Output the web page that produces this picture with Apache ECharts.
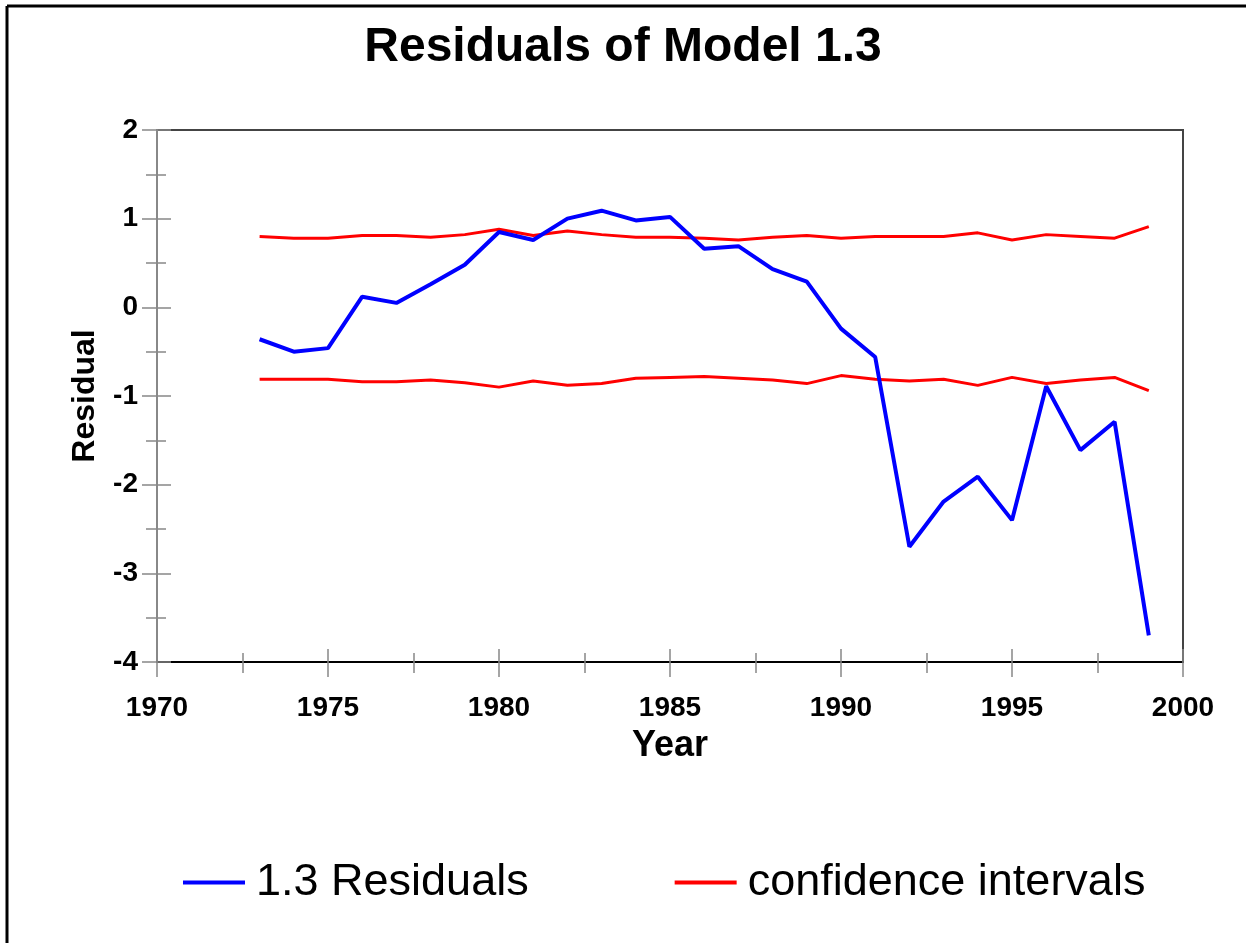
<!DOCTYPE html>
<html>
<head>
<meta charset="utf-8">
<title>Residuals of Model 1.3</title>
<script src="https://cdn.jsdelivr.net/npm/echarts@6/dist/echarts.min.js"></script>
<style>
  html, body { margin: 0; padding: 0; background: #fff; }
  #chart { width: 1246px; height: 943px; }
</style>
</head>
<body>
<div id="chart"></div>
<script>
// data
var years = [1973, 1974, 1975, 1976, 1977, 1978, 1979, 1980, 1981, 1982, 1983, 1984, 1985, 1986,
  1987, 1988, 1989, 1990, 1991, 1992, 1993, 1994, 1995, 1996, 1997, 1998, 1999];
var residuals = [-0.36, -0.50, -0.46, 0.12, 0.05, 0.26, 0.48, 0.85, 0.76, 1.00, 1.09, 0.98, 1.02, 0.66,
  0.69, 0.43, 0.29, -0.24, -0.56, -2.70, -2.19, -1.91, -2.40, -0.89, -1.61, -1.29, -3.70];
var upperCI = [0.80, 0.78, 0.78, 0.81, 0.81, 0.79, 0.82, 0.88, 0.81, 0.86, 0.82, 0.79, 0.79, 0.78,
  0.76, 0.79, 0.81, 0.78, 0.80, 0.80, 0.80, 0.84, 0.76, 0.82, 0.80, 0.78, 0.91];
var lowerCI = [-0.81, -0.81, -0.81, -0.84, -0.84, -0.82, -0.85, -0.90, -0.83, -0.88, -0.86, -0.80, -0.79, -0.78,
  -0.80, -0.82, -0.86, -0.77, -0.81, -0.83, -0.81, -0.88, -0.79, -0.86, -0.82, -0.79, -0.94];

var xTicks = { min: 1970, max: 2000, interval: 5 };
var yTicks = { min: -4, max: 2, interval: 1 };

function pairs(xs, ys) {
  var res = [];
  for (var i = 0; i < xs.length; i++) {
    res.push([xs[i], ys[i]]);
  }
  return res;
}

var font = "'Liberation Sans', Arial, sans-serif";
var chart = echarts.init(document.getElementById("chart"));

// two copies of each axis: one draws ticks outward, the other inward, so ticks cross the line
function xAxis(inside) {
  return {
    type: "value",
    position: "bottom",
    min: xTicks.min,
    max: xTicks.max,
    interval: xTicks.interval,
    name: inside ? "" : "Year",
    nameLocation: "middle",
    nameGap: 66,
    nameTextStyle: { fontFamily: font, fontSize: 36, fontWeight: "bold", color: "#000" },
    axisLine: { show: !inside, onZero: false, lineStyle: { color: "#000", width: 2 } },
    axisTick: { show: true, inside: inside, length: inside ? 13 : 15, lineStyle: { color: "#888", width: 1.5 } },
    minorTick: { show: true, splitNumber: 2, length: inside ? 9 : 11, lineStyle: { color: "#888", width: 1.5 } },
    axisLabel: {
      show: !inside, margin: 32, fontFamily: font, fontSize: 28, fontWeight: "bold", color: "#000",
      formatter: function (v) { return String(v); }
    },
    splitLine: { show: false }
  };
}

function yAxis(inside) {
  return {
    type: "value",
    position: "left",
    min: yTicks.min,
    max: yTicks.max,
    interval: yTicks.interval,
    name: inside ? "" : "Residual",
    nameLocation: "middle",
    nameGap: 56,
    nameTextStyle: { fontFamily: font, fontSize: 32, fontWeight: "bold", color: "#000" },
    axisLine: { show: !inside, onZero: false, lineStyle: { color: "#888", width: 2 } },
    axisTick: { show: true, inside: inside, length: inside ? 14 : 15, lineStyle: { color: "#888", width: 1.5 } },
    minorTick: { show: true, splitNumber: 2, length: inside ? 9 : 11, lineStyle: { color: "#888", width: 1.5 } },
    axisLabel: {
      show: !inside, margin: 19, fontFamily: font, fontSize: 28, fontWeight: "bold", color: "#000"
    },
    splitLine: { show: false }
  };
}

var option = {
  backgroundColor: "#fff",
  animation: false,
  title: {
    text: "Residuals of Model 1.3",
    left: "center",
    top: 19,
    textStyle: { fontFamily: font, fontSize: 48, fontWeight: "bold", color: "#000" }
  },
  legend: {
    left: 183,
    top: 860,
    padding: 0,
    itemGap: 146,
    itemWidth: 62,
    itemHeight: 4,
    icon: "rect",
    textStyle: { fontFamily: font, fontSize: 45, color: "#000", padding: [0, 0, 0, 6] },
    data: ["1.3 Residuals", "confidence intervals"]
  },
  grid: {
    left: 157,
    right: 63,
    top: 130,
    bottom: 281,
    show: true,
    borderColor: "#444",
    borderWidth: 2,
    backgroundColor: "#fff"
  },
  xAxis: [xAxis(false), xAxis(true)],
  yAxis: [yAxis(false), yAxis(true)],
  graphic: [
    // outer frame (top and left edges only, as in the picture)
    { type: "line", shape: { x1: 7, y1: 6, x2: 1246, y2: 6 }, style: { stroke: "#000", lineWidth: 3 } },
    { type: "line", shape: { x1: 7, y1: 6, x2: 7, y2: 943 }, style: { stroke: "#000", lineWidth: 3 } }
  ],
  series: [
    {
      name: "confidence intervals",
      type: "line",
      data: pairs(years, upperCI),
      showSymbol: false,
      symbol: "none",
      lineStyle: { color: "#ff0000", width: 3 },
      itemStyle: { color: "#ff0000" }
    },
    {
      name: "confidence intervals",
      type: "line",
      data: pairs(years, lowerCI),
      showSymbol: false,
      symbol: "none",
      lineStyle: { color: "#ff0000", width: 3 },
      itemStyle: { color: "#ff0000" }
    },
    {
      name: "1.3 Residuals",
      type: "line",
      data: pairs(years, residuals),
      showSymbol: false,
      symbol: "none",
      lineStyle: { color: "#0000ff", width: 4 },
      itemStyle: { color: "#0000ff" },
      z: 3
    }
  ]
};

chart.setOption(option);
</script>
</body>
</html>
